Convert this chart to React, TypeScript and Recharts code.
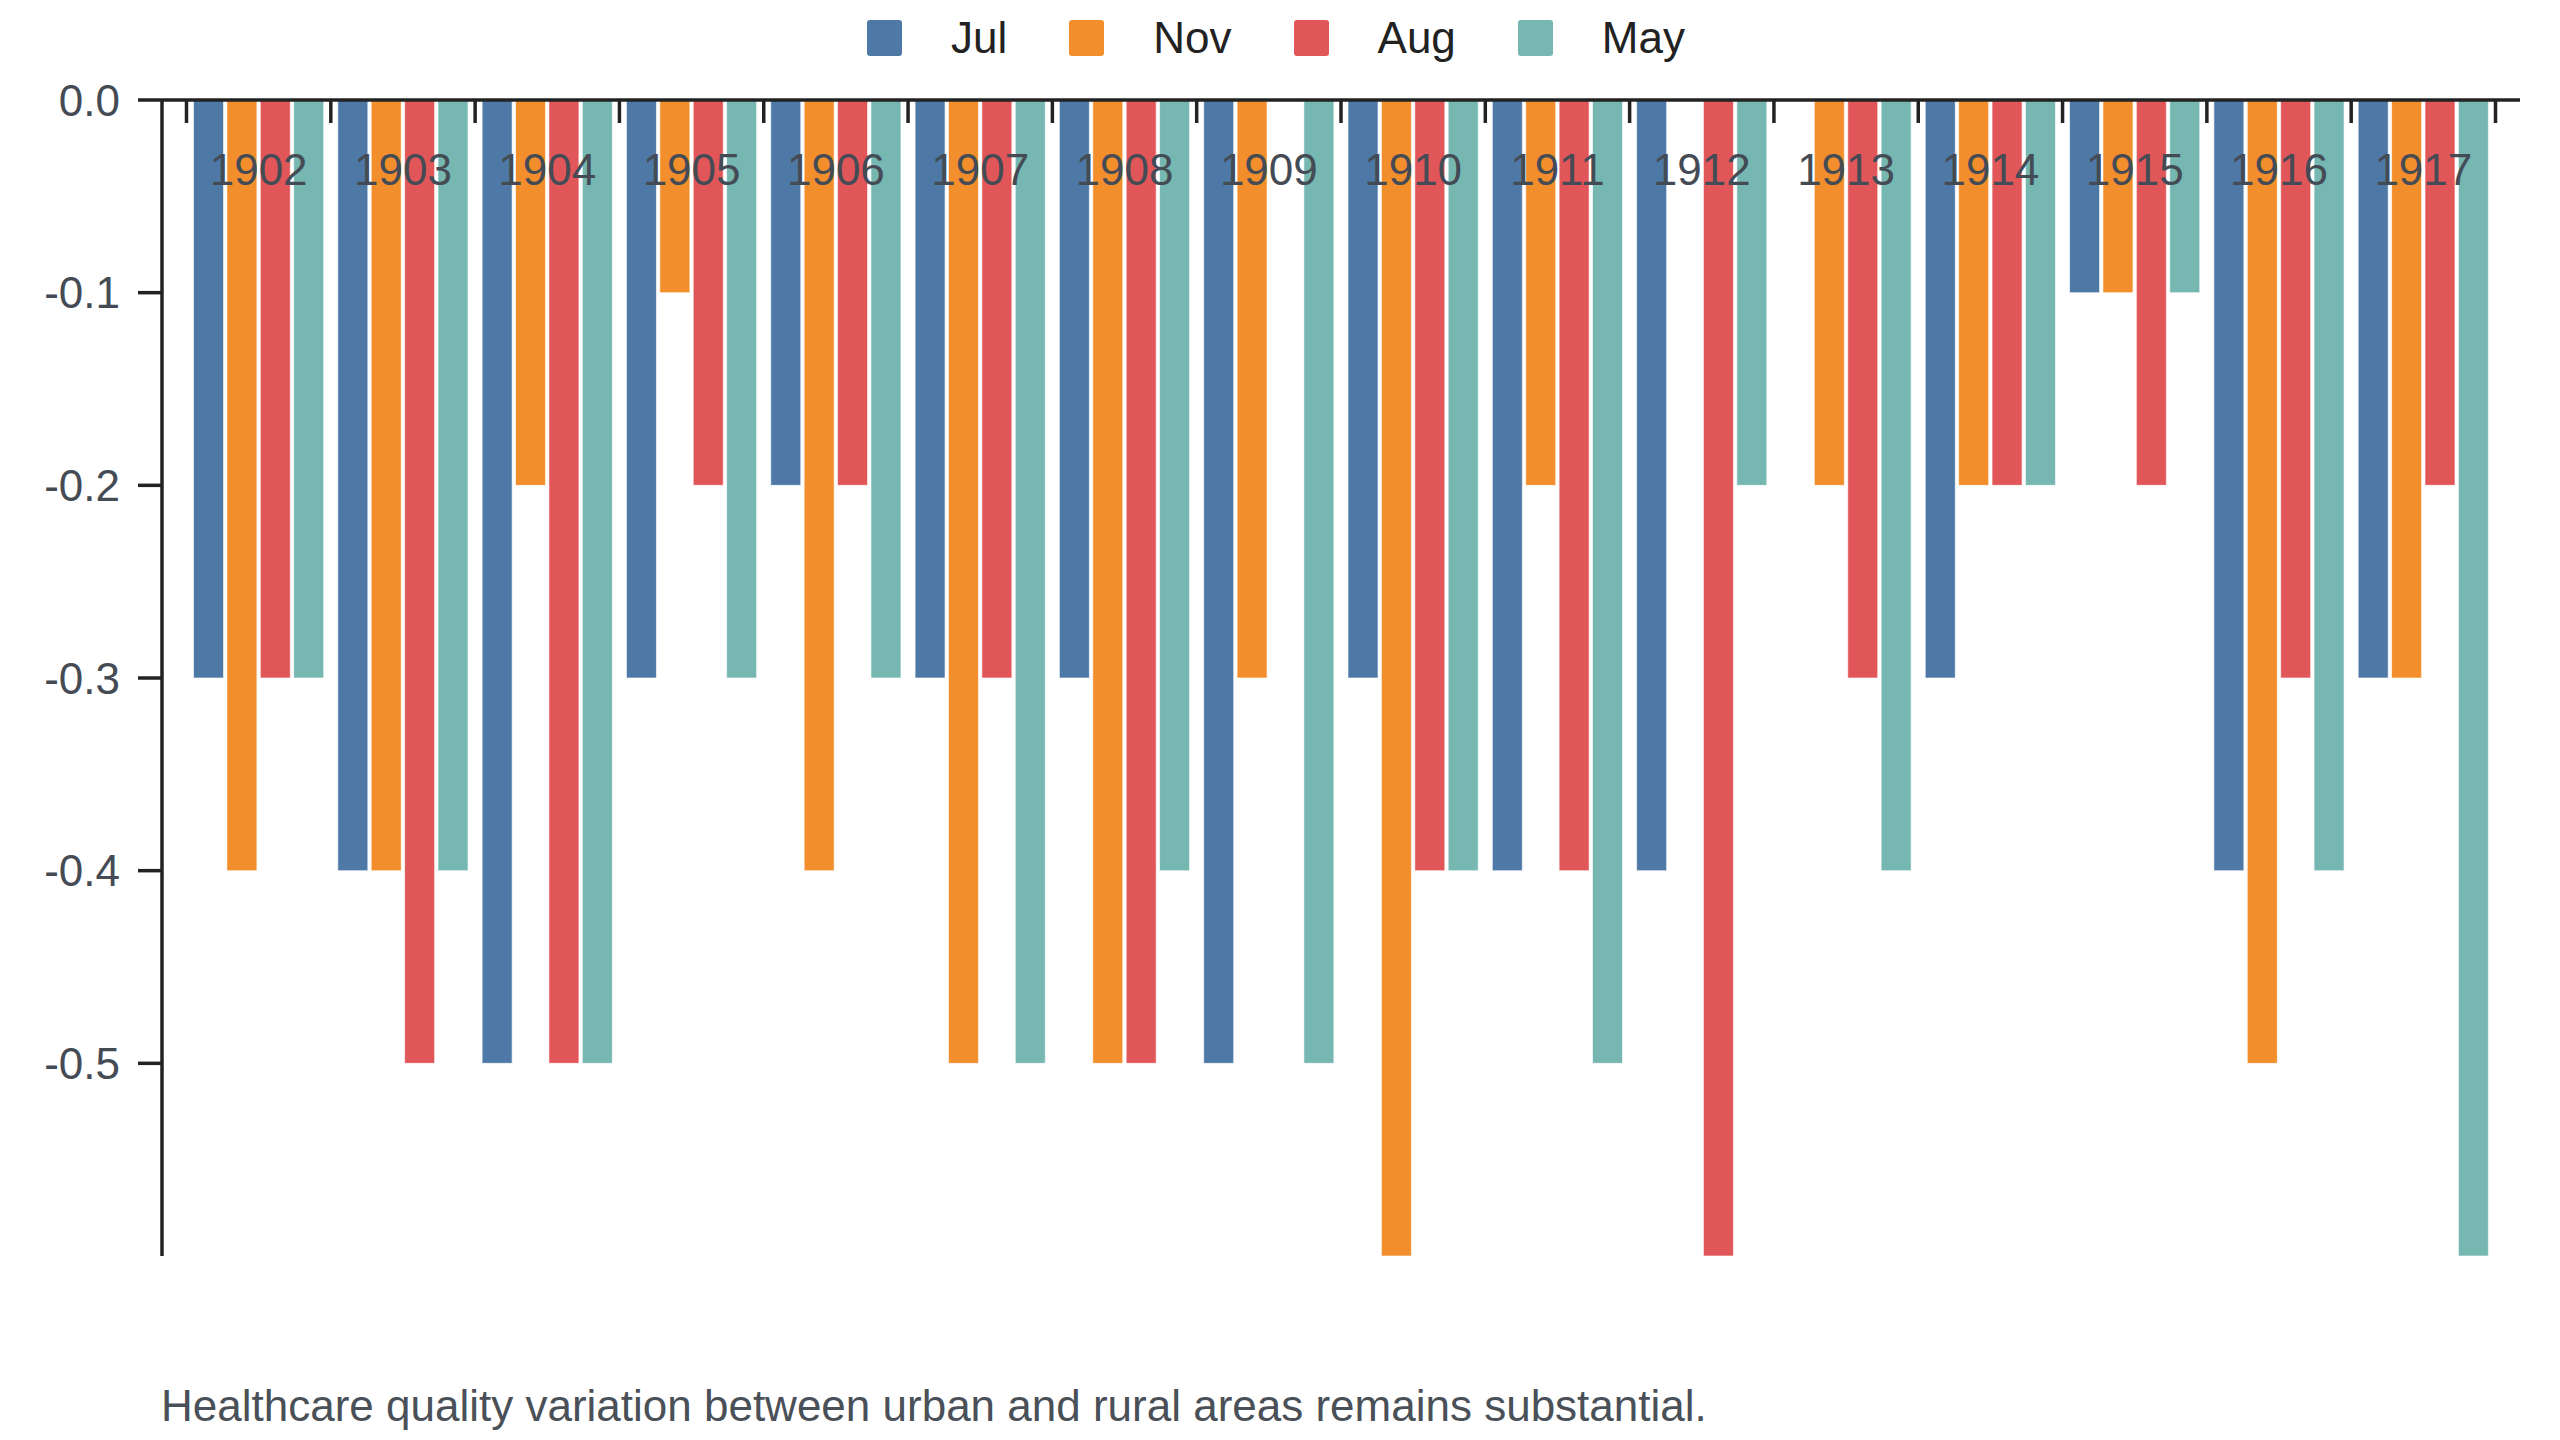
import React from 'react';
import { BarChart, Bar, XAxis, YAxis, Legend } from 'recharts';

const years = ['1902', '1903', '1904', '1905', '1906', '1907', '1908', '1909', '1910', '1911', '1912', '1913', '1914', '1915', '1916', '1917'];
const jul = [-0.3, -0.4, -0.5, -0.3, -0.2, -0.3, -0.3, -0.5, -0.3, -0.4, -0.4, 0, -0.3, -0.1, -0.4, -0.3];
const nov = [-0.4, -0.4, -0.2, -0.1, -0.4, -0.5, -0.5, -0.3, -0.6, -0.2, 0, -0.2, -0.2, -0.1, -0.5, -0.3];
const aug = [-0.3, -0.5, -0.5, -0.2, -0.2, -0.3, -0.5, 0, -0.4, -0.4, -0.6, -0.3, -0.2, -0.2, -0.3, -0.2];
const may = [-0.3, -0.4, -0.5, -0.3, -0.3, -0.5, -0.4, -0.5, -0.4, -0.5, -0.2, -0.4, -0.2, -0.1, -0.4, -0.6];
const yTicks = [0, -0.1, -0.2, -0.3, -0.4, -0.5];

const series = [
    { key: 'Jul', color: '#4e79a7', values: jul },
    { key: 'Nov', color: '#f28e2b', values: nov },
    { key: 'Aug', color: '#e15759', values: aug },
    { key: 'May', color: '#76b7b2', values: may },
];

const data = years.map((year, i) => {
    const row: Record<string, string | number> = { year };
    series.forEach(s => { row[s.key] = s.values[i]; });
    return row;
});

const W = 2560;
const H = 1440;
const MARGIN = { top: 0, right: 40, bottom: 184, left: 0 };
const Y_AXIS_W = 162;
const PAD = 24.5;
const BAND = (W - MARGIN.right - Y_AXIS_W - 2 * PAD) / years.length;

// ticks sit on the band edges, labels in the middle of each band
function YearTick(props: any) {
    const { x, y, payload, index } = props;
    const last = index === years.length - 1;
    return (
        <g>
            <line x1={x - BAND / 2} x2={x - BAND / 2} y1={y} y2={y + 23} stroke="#222" strokeWidth={3.5} />
            {last && <line x1={x + BAND / 2} x2={x + BAND / 2} y1={y} y2={y + 23} stroke="#222" strokeWidth={3.5} />}
            <text x={x} y={y + 85} textAnchor="middle" fontSize={44} fill="#444b55">{payload.value}</text>
        </g>
    );
}

function LegendContent() {
    return (
        <div style={{ height: 70, display: 'flex', justifyContent: 'center', alignItems: 'flex-start', paddingTop: 20, paddingRight: 8, boxSizing: 'border-box' }}>
            {series.map((s, i) => (
                <div key={s.key} style={{ display: 'flex', alignItems: 'center', marginLeft: i === 0 ? 0 : 62 }}>
                    <div style={{ width: 35, height: 36, background: s.color, borderRadius: 3 }} />
                    <span style={{ marginLeft: 49, fontSize: 44, lineHeight: '36px', color: '#222' }}>{s.key}</span>
                </div>
            ))}
        </div>
    );
}

export default function App() {
    return (
        <div style={{ position: 'relative', width: W, height: H, fontFamily: '"Liberation Sans", Arial, sans-serif', background: '#fff' }}>
            <style>{'body { margin: 0; }'}</style>
            <BarChart width={W} height={H} data={data} margin={MARGIN} barCategoryGap={7} barGap={3.4}>
                <Legend verticalAlign="top" content={<LegendContent />} wrapperStyle={{ left: 0, width: W }} />
                <XAxis
                    dataKey="year"
                    orientation="top"
                    height={30}
                    padding={{ left: PAD, right: PAD }}
                    axisLine={{ stroke: '#222', strokeWidth: 3.5 }}
                    tickLine={false}
                    tickSize={0}
                    tickMargin={0}
                    interval={0}
                    tick={<YearTick />}
                />
                <YAxis
                    width={Y_AXIS_W}
                    domain={[-0.6, 0]}
                    ticks={yTicks}
                    tickFormatter={(v: number) => v.toFixed(1)}
                    axisLine={{ stroke: '#222', strokeWidth: 3.5 }}
                    tickLine={{ stroke: '#222', strokeWidth: 3.5 }}
                    tickSize={24}
                    tickMargin={18}
                    tick={{ fontSize: 44, fill: '#444b55' }}
                />
                {series.map(s => (
                    <Bar key={s.key} dataKey={s.key} fill={s.color} stroke="#ffffff" strokeOpacity={0.6} strokeWidth={1} isAnimationActive={false} />
                ))}
            </BarChart>
            <div style={{ position: 'absolute', left: 161, top: 1384, fontSize: 44, lineHeight: '44px', color: '#4a5058', whiteSpace: 'nowrap' }}>
                Healthcare quality variation between urban and rural areas remains substantial.
            </div>
        </div>
    );
}
